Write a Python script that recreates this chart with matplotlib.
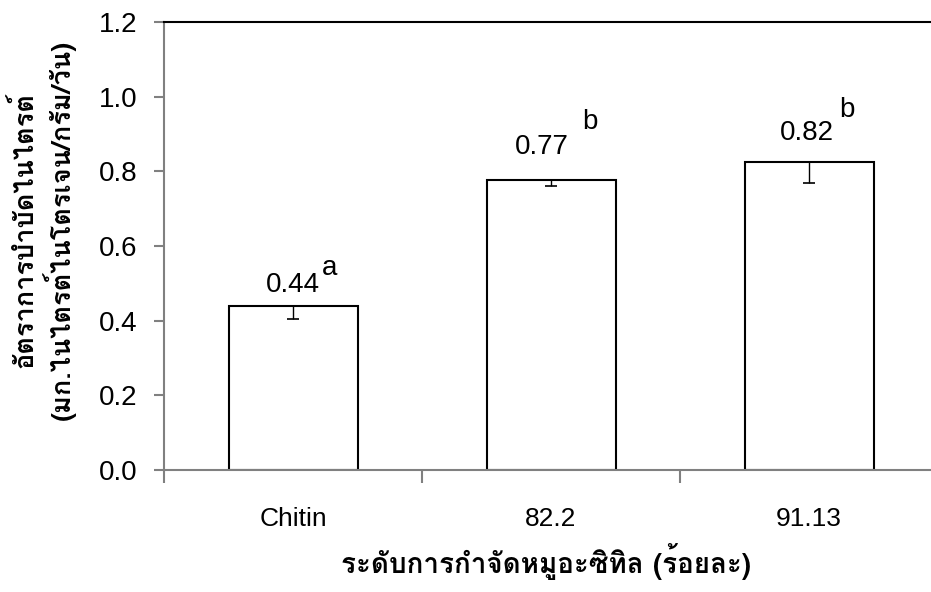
import matplotlib
matplotlib.use('Agg')
import matplotlib.pyplot as plt
import numpy as np

plt.rcParams['font.family'] = ['Liberation Sans', 'Loma', 'DejaVu Sans']

# ข้อมูล
categories = ['Chitin', '82.2', '91.13']
values = [0.44, 0.777, 0.825]
err_low = [0.035, 0.016, 0.056]
value_labels = ['0.44', '0.77', '0.82']
letters = ['a', 'b', 'b']
yticks = [0.0, 0.2, 0.4, 0.6, 0.8, 1.0, 1.2]

# ตำแหน่งข้อความ (offset จากค่าของแท่ง)
lab_dx = [0.0, -0.035, -0.008]
lab_dy = [0.056, 0.088, 0.078]
let_dx = [0.143, 0.151, 0.147]
let_dy = [0.101, 0.155, 0.139]

fig = plt.figure(figsize=(9.31, 5.92), dpi=100)
W, H = 931, 592
# แกนยื่นเลยขอบขวาของรูป (เหมือนต้นฉบับที่ถูกตัด)
ax = fig.add_axes([164 / W, (H - 470) / H, (938 - 164) / W, (470 - 22) / H])

x = np.arange(len(categories))
ax.bar(x, values, width=0.5, color='white', edgecolor='black', linewidth=1.5,
       yerr=[err_low, [0] * len(values)], capsize=4.5,
       error_kw=dict(ecolor='black', elinewidth=1.0, capthick=1.2))

for i in range(len(values)):
    ax.text(x[i] + lab_dx[i], values[i] + lab_dy[i], value_labels[i],
            ha='center', va='center', fontsize=20)
    ax.text(x[i] + let_dx[i], values[i] + let_dy[i], letters[i],
            ha='center', va='center', fontsize=20)

ax.set_xlim(-0.5, 2.5)
ax.set_ylim(0, 1.2)
ax.set_yticks(yticks)
ax.set_yticklabels(['%.1f' % v for v in yticks], fontsize=20)
ax.set_xticks(x)
ax.set_xticklabels(categories, fontsize=19)
ax.set_xticks(np.arange(-0.5, 2.6, 1.0), minor=True)
ax.tick_params(axis='x', which='major', length=0, pad=27)
ax.tick_params(axis='x', which='minor', length=9, width=1.5, color='#808080',
               direction='out')
ax.tick_params(axis='y', length=7, width=1.5, color='#808080', direction='out',
               pad=12)

for s in ['left', 'bottom']:
    ax.spines[s].set_color('#808080')
    ax.spines[s].set_linewidth(1.5)
ax.spines['top'].set_color('black')
ax.spines['top'].set_linewidth(1.5)
ax.spines['right'].set_visible(False)

fig.text(546 / W, 1 - 562 / H, 'ระดับการกำจัดหมูอะซิทิล (ร้อยละ)',
         fontsize=20, fontweight='bold', family=['Loma', 'DejaVu Sans'],
         ha='center', va='center')
fig.text(43 / W, 1 - 230 / H,
         'อัตราการบำบัดไนไตรต์\n(มก.ไนไตรต์ไนโตรเจน/กรัม/วัน)',
         fontsize=19.5, fontweight='bold', family=['Loma', 'DejaVu Sans'],
         ha='center', va='center', rotation=90, multialignment='center',
         linespacing=1.15)

fig.savefig('out.png', dpi=100)
